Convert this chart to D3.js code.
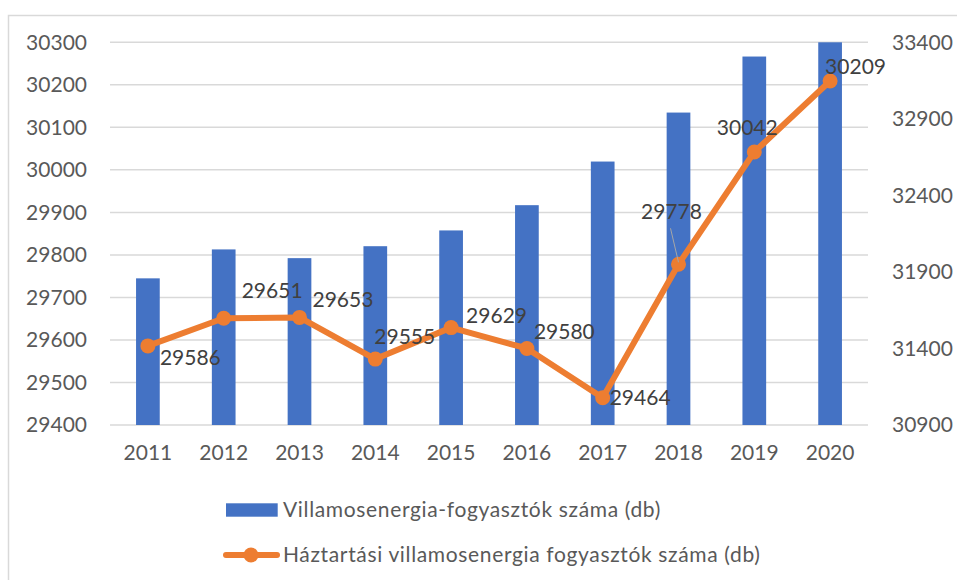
<!DOCTYPE html>
<html>
<head>
<meta charset="utf-8">
<script src="https://cdn.jsdelivr.net/npm/d3@7"></script>
<style>
  body { margin: 0; background: #fff; }
  svg { font-family: Lato, "Open Sans", sans-serif; }
</style>
</head>
<body>
<svg id="chart" width="957" height="580"></svg>
<script>
const years = ["2011", "2012", "2013", "2014", "2015", "2016", "2017", "2018", "2019", "2020"];
// bars, right axis
const villamos = [31858, 32047, 31990, 32068, 32171, 32336, 32621, 32941, 33307, 33400];
// line, left axis
const haztartasi = [29586, 29651, 29653, 29555, 29629, 29580, 29464, 29778, 30042, 30209];
const leftTicks = [29400, 29500, 29600, 29700, 29800, 29900, 30000, 30100, 30200, 30300];
const rightTicks = [30900, 31400, 31900, 32400, 32900, 33400];
const seriesNames = ["Villamosenergia-fogyasztók száma (db)", "Háztartási villamosenergia fogyasztók száma (db)"];

// label placement tweaks (dx to label start, dy to label middle), as in the original
const labelOffsets = [[12, 12], [18, -28], [13, -17.5], [-1, -22.5], [15, -12],
  [7, -17], [7, 0], [-37.5, -53], [-37.5, -24], [-5, -14]];

const BLUE = "#4472C4";
const ORANGE = "#ED7D31";
const GRID = "#d9d9d9";

const svg = d3.select("#chart");

// chart frame
svg.append("rect")
  .attr("x", 8.5).attr("y", 15.5)
  .attr("width", 1000).attr("height", 700)
  .attr("fill", "none").attr("stroke", GRID).attr("stroke-width", 1.5);

const x = d3.scaleBand().domain(years).range([110, 868]);
const yL = d3.scaleLinear().domain([29400, 30300]).range([425, 42.3]);
const yR = d3.scaleLinear().domain([30900, 33400]).range([425, 42.3]);

// gridlines
svg.append("g").selectAll("line")
  .data(leftTicks)
  .enter().append("line")
  .attr("x1", 110).attr("x2", 868)
  .attr("y1", d => yL(d)).attr("y2", d => yL(d))
  .attr("stroke", GRID).attr("stroke-width", 1.5);

// left axis
const left = svg.append("g")
  .attr("transform", "translate(87,0)")
  .call(d3.axisLeft(yL).tickValues(leftTicks).tickSize(0).tickPadding(0).tickFormat(d3.format("d")));
left.select(".domain").remove();

// right axis
const right = svg.append("g")
  .attr("transform", "translate(892,0)")
  .call(d3.axisRight(yR).tickValues(rightTicks).tickSize(0).tickPadding(0).tickFormat(d3.format("d")));
right.select(".domain").remove();

// bottom axis
const bottom = svg.append("g")
  .attr("transform", "translate(0,445)")
  .call(d3.axisBottom(x).tickSize(0).tickPadding(0));
bottom.select(".domain").remove();

svg.selectAll(".tick text")
  .attr("fill", "#595959")
  .attr("font-size", 21)
  .attr("font-family", "Lato, 'Open Sans', sans-serif");

// bars
const barW = 23.7;
svg.append("g").selectAll("rect")
  .data(villamos)
  .enter().append("rect")
  .attr("x", (d, i) => x(years[i]) + x.bandwidth() / 2 - barW / 2)
  .attr("y", d => yR(d))
  .attr("width", barW)
  .attr("height", d => yR.range()[0] - yR(d))
  .attr("fill", BLUE);

// line
const pts = haztartasi.map((v, i) => [x(years[i]) + x.bandwidth() / 2, yL(v)]);

svg.append("path")
  .datum(pts)
  .attr("d", d3.line())
  .attr("fill", "none")
  .attr("stroke", ORANGE)
  .attr("stroke-width", 6)
  .attr("stroke-linejoin", "round");

svg.append("g").selectAll("circle")
  .data(pts)
  .enter().append("circle")
  .attr("cx", d => d[0]).attr("cy", d => d[1])
  .attr("r", 7.5)
  .attr("fill", ORANGE);

// leader line for 2018 label
svg.append("line")
  .attr("x1", pts[7][0] - 8).attr("y1", pts[7][1] - 36)
  .attr("x2", pts[7][0]).attr("y2", pts[7][1] - 2)
  .attr("stroke", "#a6a6a6").attr("stroke-width", 1);

// data labels
svg.append("g").selectAll("text")
  .data(haztartasi)
  .enter().append("text")
  .attr("x", (d, i) => pts[i][0] + labelOffsets[i][0])
  .attr("y", (d, i) => pts[i][1] + labelOffsets[i][1])
  .attr("dy", "0.35em")
  .attr("fill", "#404040")
  .attr("font-size", 21)
  .text(d => d);

// legend
const legend = svg.append("g").attr("fill", "#595959").attr("font-size", 21)
  .attr("letter-spacing", 0.65);
legend.append("rect")
  .attr("x", 226).attr("y", 503.3).attr("width", 51.7).attr("height", 13.4)
  .attr("fill", BLUE);
legend.append("text")
  .attr("x", 283).attr("y", 510).attr("dy", "0.35em")
  .text(seriesNames[0]);
legend.append("line")
  .attr("x1", 226).attr("x2", 277)
  .attr("y1", 555).attr("y2", 555)
  .attr("stroke", ORANGE).attr("stroke-width", 6).attr("stroke-linecap", "round");
legend.append("circle")
  .attr("cx", 251).attr("cy", 555).attr("r", 7.5)
  .attr("fill", ORANGE);
legend.append("text")
  .attr("x", 283).attr("y", 555).attr("dy", "0.35em")
  .text(seriesNames[1]);
</script>
</body>
</html>
